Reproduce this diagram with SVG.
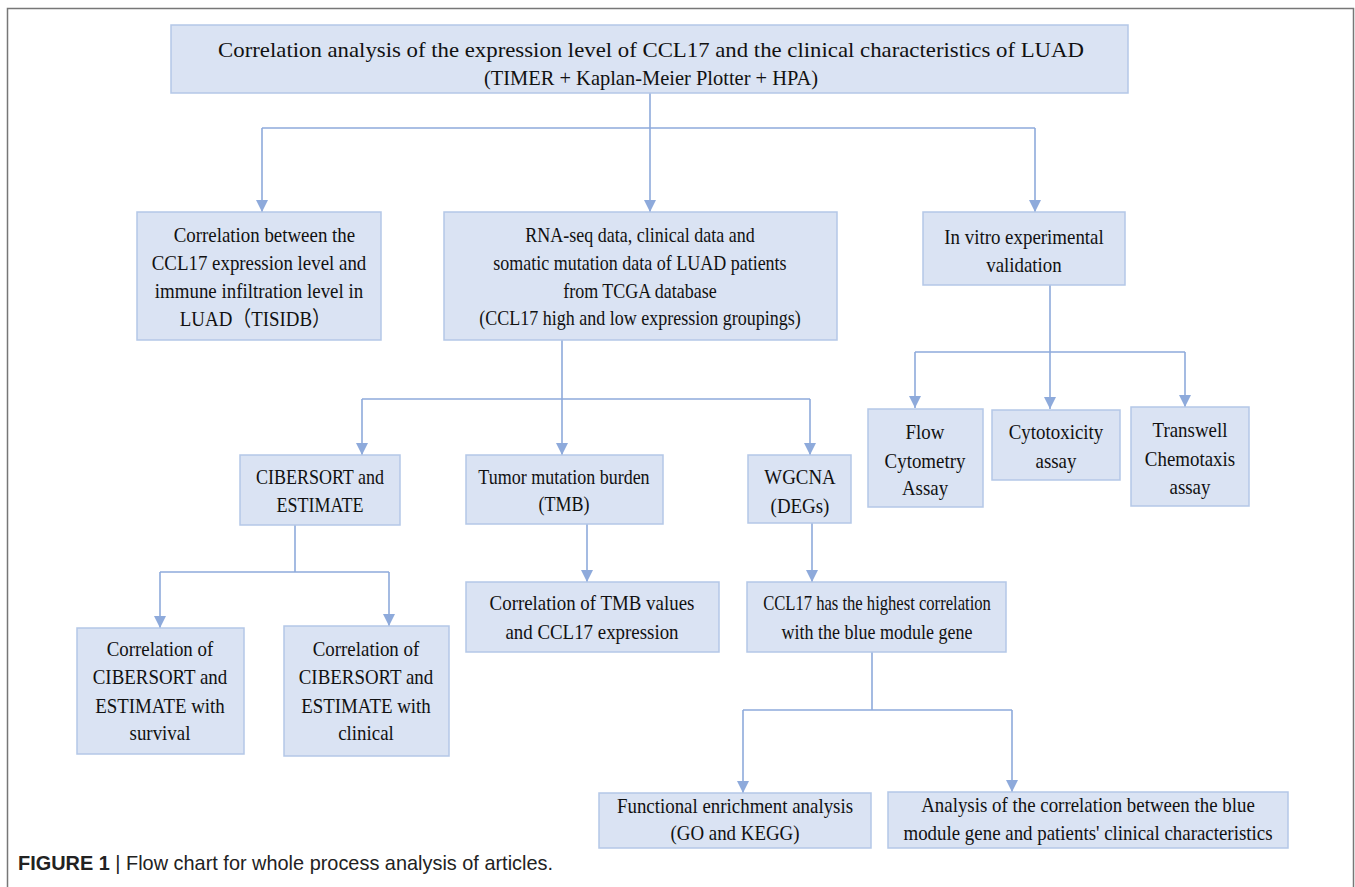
<svg xmlns="http://www.w3.org/2000/svg" width="1355" height="887" viewBox="0 0 1355 887">
<style>
.box{fill:#dae3f3;stroke:#b4c7e7;stroke-width:1.5}
.t{font-family:"Liberation Serif","Times New Roman",serif;font-size:21px;fill:#111;text-anchor:middle}
.s18{font-size:20px}
.c{fill:none;stroke:#8eaadb;stroke-width:1.6}
.cap{font-family:"Liberation Sans",Arial,sans-serif;font-size:21px;fill:#222}
</style>
<defs>
<marker id="ar" markerWidth="14" markerHeight="14" refX="12" refY="6" orient="auto" markerUnits="userSpaceOnUse">
<path d="M0,0 L12,6 L0,12 Z" fill="#8eaadb"/>
</marker>
</defs>
<rect x="0" y="0" width="1355" height="887" fill="#fff"/>
<path d="M7.5,900 V8.5 H1353.5 V900" fill="none" stroke="#777" stroke-width="1.5"/>

<g id="connectors">
<path class="c" d="M650,93 V128"/>
<path class="c" d="M262,128 H1035"/>
<path class="c" d="M262,128 V212" marker-end="url(#ar)"/>
<path class="c" d="M650,128 V212" marker-end="url(#ar)"/>
<path class="c" d="M1035,128 V212" marker-end="url(#ar)"/>

<path class="c" d="M1050,285 V352"/>
<path class="c" d="M915,352 H1185"/>
<path class="c" d="M915,352 V408" marker-end="url(#ar)"/>
<path class="c" d="M1050,352 V409" marker-end="url(#ar)"/>
<path class="c" d="M1185,352 V407" marker-end="url(#ar)"/>

<path class="c" d="M562,340 V455" marker-end="url(#ar)"/>
<path class="c" d="M362,399 H810"/>
<path class="c" d="M362,399 V455" marker-end="url(#ar)"/>
<path class="c" d="M810,399 V455" marker-end="url(#ar)"/>

<path class="c" d="M295,525 V572"/>
<path class="c" d="M160,572 H389"/>
<path class="c" d="M160,572 V628" marker-end="url(#ar)"/>
<path class="c" d="M389,572 V626" marker-end="url(#ar)"/>

<path class="c" d="M587,524 V582" marker-end="url(#ar)"/>
<path class="c" d="M812,523 V582" marker-end="url(#ar)"/>

<path class="c" d="M872,652 V710"/>
<path class="c" d="M743,710 H1012"/>
<path class="c" d="M743,710 V793" marker-end="url(#ar)"/>
<path class="c" d="M1012,710 V792" marker-end="url(#ar)"/>
</g>

<g id="n-top">
<rect class="box" x="171" y="25" width="957" height="68"/>
<g transform="matrix(0.93 0 0 1 45.57 0)">
<text class="t" x="651" y="57" style="font-size:22px" textLength="931" lengthAdjust="spacingAndGlyphs">Correlation analysis of the expression level of CCL17 and the clinical characteristics of LUAD</text>
<text class="t" x="651" y="85" style="font-size:22px">(TIMER + Kaplan-Meier Plotter + HPA)</text>
</g>
</g>

<g id="n-tisidb">
<rect class="box" x="137" y="212" width="244" height="128"/>
<g transform="matrix(0.9 0 0 1 25.9 0)">
<text class="t" x="265" y="242">Correlation between the</text>
<text class="t" x="259" y="270">CCL17 expression level and</text>
<text class="t" x="259" y="298">immune infiltration level in</text>
<text class="t" x="255" y="326" style="font-family:'Liberation Serif','Noto Sans CJK SC',serif">LUAD（TISIDB）</text>
</g>
</g>

<g id="n-tcga">
<rect class="box" x="444" y="212" width="393" height="128"/>
<g transform="matrix(0.9 0 0 1 64 0)">
<text class="t s18" x="640" y="242">RNA-seq data, clinical data and</text>
<text class="t s18" x="640" y="270">somatic mutation data of LUAD patients</text>
<text class="t s18" x="640" y="298">from TCGA database</text>
<text class="t s18" x="640" y="325">(CCL17 high and low expression groupings)</text>
</g>
</g>

<g id="n-invitro">
<rect class="box" x="923" y="212" width="202" height="73"/>
<g transform="matrix(0.9 0 0 1 102.4 0)">
<text class="t" x="1024" y="244">In vitro experimental</text>
<text class="t" x="1024" y="272">validation</text>
</g>
</g>

<g id="n-flow">
<rect class="box" x="868" y="409" width="115" height="98"/>
<g transform="matrix(0.9 0 0 1 92.5 0)">
<text class="t" x="925" y="439">Flow</text>
<text class="t" x="925" y="468">Cytometry</text>
<text class="t" x="925" y="495">Assay</text>
</g>
</g>

<g id="n-cyto">
<rect class="box" x="992" y="410" width="128" height="70"/>
<g transform="matrix(0.9 0 0 1 105.6 0)">
<text class="t" x="1056" y="439">Cytotoxicity</text>
<text class="t" x="1056" y="468">assay</text>
</g>
</g>

<g id="n-transwell">
<rect class="box" x="1131" y="407" width="118" height="99"/>
<g transform="matrix(0.9 0 0 1 119 0)">
<text class="t" x="1190" y="437">Transwell</text>
<text class="t" x="1190" y="466">Chemotaxis</text>
<text class="t" x="1190" y="494">assay</text>
</g>
</g>

<g id="n-cibersort">
<rect class="box" x="240" y="455" width="160" height="70"/>
<g transform="matrix(0.9 0 0 1 32 0)">
<text class="t s18" x="320" y="484">CIBERSORT and</text>
<text class="t s18" x="320" y="512">ESTIMATE</text>
</g>
</g>

<g id="n-tmb">
<rect class="box" x="466" y="455" width="197" height="69"/>
<g transform="matrix(0.9 0 0 1 56.4 0)">
<text class="t s18" x="564" y="484">Tumor mutation burden</text>
<text class="t s18" x="564" y="511">(TMB)</text>
</g>
</g>

<g id="n-wgcna">
<rect class="box" x="748" y="455" width="103" height="68"/>
<g transform="matrix(0.9 0 0 1 80 0)">
<text class="t" x="800" y="484">WGCNA</text>
<text class="t" x="800" y="513">(DEGs)</text>
</g>
</g>

<g id="n-surv">
<rect class="box" x="77" y="628" width="167" height="126"/>
<g transform="matrix(0.9 0 0 1 16 0)">
<text class="t" x="160" y="656">Correlation of</text>
<text class="t" x="160" y="684">CIBERSORT and</text>
<text class="t" x="160" y="713">ESTIMATE with</text>
<text class="t" x="160" y="740">survival</text>
</g>
</g>

<g id="n-clin">
<rect class="box" x="284" y="626" width="165" height="130"/>
<g transform="matrix(0.9 0 0 1 36.6 0)">
<text class="t" x="366" y="656">Correlation of</text>
<text class="t" x="366" y="684">CIBERSORT and</text>
<text class="t" x="366" y="713">ESTIMATE with</text>
<text class="t" x="366" y="740">clinical</text>
</g>
</g>

<g id="n-tmbcorr">
<rect class="box" x="466" y="582" width="253" height="70"/>
<g transform="matrix(0.9 0 0 1 59.2 0)">
<text class="t" x="592" y="610">Correlation of TMB values</text>
<text class="t" x="592" y="639">and CCL17 expression</text>
</g>
</g>

<g id="n-ccl17">
<rect class="box" x="747" y="582" width="259" height="70"/>
<g transform="matrix(0.9 0 0 1 87.7 0)">
<text class="t s18" x="877" y="610" textLength="253" lengthAdjust="spacingAndGlyphs">CCL17 has the highest correlation</text>
<text class="t s18" x="877" y="639">with the blue module gene</text>
</g>
</g>

<g id="n-func">
<rect class="box" x="599" y="793" width="272" height="55"/>
<g transform="matrix(0.9 0 0 1 73.5 0)">
<text class="t" x="735" y="813">Functional enrichment analysis</text>
<text class="t" x="735" y="840">(GO and KEGG)</text>
</g>
</g>

<g id="n-analysis">
<rect class="box" x="888" y="792" width="400" height="56"/>
<g transform="matrix(0.9 0 0 1 108.8 0)">
<text class="t" x="1088" y="812">Analysis of the correlation between the blue</text>
<text class="t" x="1088" y="840">module gene and patients' clinical characteristics</text>
</g>
</g>

<text class="cap" x="18" y="870" textLength="535" lengthAdjust="spacingAndGlyphs"><tspan font-weight="bold">FIGURE 1</tspan> | Flow chart for whole process analysis of articles.</text>
</svg>
